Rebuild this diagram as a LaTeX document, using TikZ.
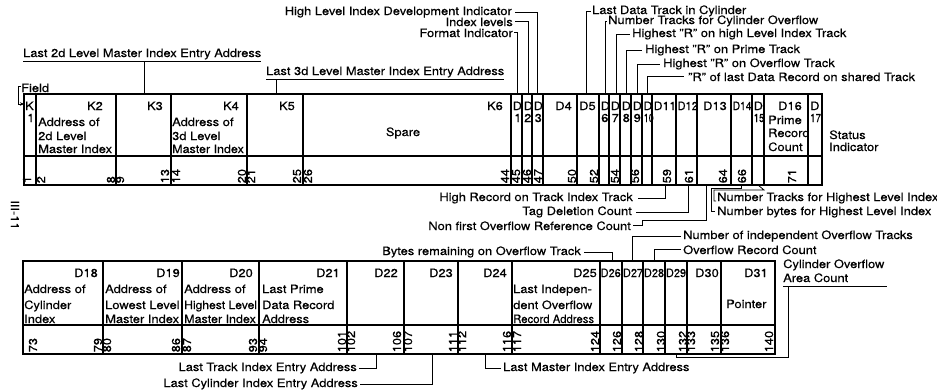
\documentclass[tikz,border=0pt]{standalone}
\usepackage{fontspec}
\setmainfont{TeX Gyre Heros}[FakeStretch=1.12,FakeBold=0.35]
\usetikzlibrary{arrows.meta}
\newcommand\fs{\fontsize{11.5}{13}\selectfont}
\newcommand\sq[2]{\scalebox{#1}[1]{#2}}
\begin{document}
\begin{tikzpicture}[x=1pt,y=-1pt,
  tbl/.style={line width=1.6pt},
  grid/.style={line width=1.1pt},
  lead/.style={line width=0.8pt},
  txt/.style={inner sep=0pt, font=\fs},
  num/.style={inner sep=0pt, font=\fs, rotate=90, anchor=west},
  lt/.style={txt, anchor=base west},
  rt/.style={txt, anchor=base east}]
\useasboundingbox (0,0) rectangle (937,391);
\fill[white] (0,0) rectangle (937,391);

% ---------------- top table ----------------
\draw[tbl] (24,94) rectangle (822,185);
\draw[grid] (24,156) -- (822,156);
\foreach \x in {36,116,171,247,303,511,522,532,543,577,599,609,620,631,642,652,676,697,731,752,764,808}
  \draw[grid] (\x,94) -- (\x,185);

\node[lt] (k1a) at (25,110) {K};
\node[lt] (k1b) at (27,122) {1};
\node[rt] (k2) at (103,110) {K2};
\node[lt] (k2a) at (38,126) {Address of};
\node[lt] (k2b) at (38,140) {2d Level};
\node[lt] (k2c) at (38,153) {Master Index};
\node[rt] (k3) at (163,110) {K3};
\node[rt] (k4) at (239,110) {K4};
\node[lt] (k4a) at (172,126) {Address of};
\node[lt] (k4b) at (172,140) {3d Level};
\node[lt] (k4c) at (172,153) {\sq{0.97}{Master Index}};
\node[rt] (k5) at (295,110) {K5};
\node[rt] (k6) at (503,110) {K6};
\node[txt] (spare) at (403,133) {Spare};
\node[lt] (d1a) at (512.5,110) {D};  \node[lt] (d1b) at (514,122) {1};
\node[lt] (d2a) at (523.5,110) {D};\node[lt] (d2b) at (524,122) {2};
\node[lt] (d3a) at (533.5,110) {D};  \node[lt] (d3b) at (534.5,122) {3};
\node[rt] (d4) at (572,110) {D4};
\node[lt] (d5) at (579,110) {D5};
\node[lt] (d6a) at (600.5,110) {D};\node[lt] (d6b) at (601,122) {6};
\node[lt] (d7a) at (610.5,110) {D};  \node[lt] (d7b) at (611.5,122) {7};
\node[lt] (d8a) at (621.5,110) {D};  \node[lt] (d8b) at (622.5,122) {8};
\node[lt] (d9a) at (632.5,110) {D};  \node[lt] (d9b) at (633.5,122) {9};
\node[lt] (d10a) at (643.3,110) {\sq{0.95}{D}};\node[lt] (d10b) at (643.5,122) {\sq{0.7}{10}};
\node[lt] (d11) at (653.5,110) {\sq{0.95}{D11}};
\node[lt] (d12) at (677.5,110) {\sq{0.85}{D12}};
\node[lt] (d13) at (703,110) {D13};
\node[lt] (d14) at (732.5,110) {\sq{0.8}{D14}};
\node[lt] (d15a) at (753.5,110) {D};\node[lt] (d15b) at (753.5,122) {\sq{0.75}{15}};
\node[rt] (d16) at (802,110) {D16};
\node[lt] (d16a) at (768,124) {Prime};
\node[lt] (d16b) at (768,137) {Record};
\node[lt] (d16c) at (768,151) {Count};
\node[lt] (d17a) at (810,110) {D};\node[lt] (d17b) at (810,122) {\sq{0.75}{17}};
\node[lt] (st1) at (829,139) {Status};
\node[lt] (st2) at (829,151) {Indicator};

% top numbers
\foreach \v/\x in {1/27,2/41,8/111,9/120,13/165,14/176,20/242,21/251,25/297,26/308,
  44/505,45/516,46/527,47/538,50/572,52/594,54/615,56/635,59/667,61/689,64/723,66/742,71/792}
  \node[num] (n\v) at (\x,183.5) {\v};

% ---------------- bottom table ----------------
\draw[tbl] (23,261) rectangle (775,354);
\draw[grid] (23,325) -- (775,325);
\foreach \x in {103,182,259,347,404,458,512,600,622,643,665,687,721}
  \draw[grid] (\x,261) -- (\x,354);

\node[rt] (d18) at (98,277) {D18};
\node[lt] (d18a) at (24,293) {Address of};
\node[lt] (d18b) at (24,309) {Cylinder};
\node[lt] (d18c) at (24,323) {Index};
\node[rt] (d19) at (180,277) {D19};
\node[lt] (d19a) at (105,293) {Address of};
\node[lt] (d19b) at (105,309) {Lowest Level};
\node[lt] (d19c) at (105,323) {Master Index};
\node[rt] (d20) at (253,277) {D20};
\node[lt] (d20a) at (184,293) {Address of};
\node[lt] (d20b) at (184,309) {\sq{0.94}{Highest Level}};
\node[lt] (d20c) at (184,323) {\sq{0.97}{Master Index}};
\node[rt] (d21) at (340,277) {D21};
\node[lt] (d21a) at (262,293) {Last Prime};
\node[lt] (d21b) at (262,309) {Data Record};
\node[lt] (d21c) at (262,323) {Address};
\node[rt] (d22) at (398,277) {D22};
\node[rt] (d23) at (453,277) {D23};
\node[rt] (d24) at (507,277) {D24};
\node[rt] (d25) at (597,277) {D25};
\node[lt] (d25a) at (513,293) {Last Indepen-};
\node[lt] (d25b) at (513,309) {dent Overflow};
\node[lt] (d25c) at (513,323) {\sq{0.88}{Record Address}};
\node[lt] (d26) at (600.5,277) {\sq{0.85}{D26}};
\node[lt] (d27) at (622.8,277) {\sq{0.85}{D27}};
\node[lt] (d28) at (643.8,277) {\sq{0.85}{D28}};
\node[lt] (d29) at (665.8,277) {\sq{0.85}{D29}};
\node[lt] (d30) at (695,277) {D30};
\node[rt] (d31) at (768,277) {D31};
\node[lt] (d31a) at (726,308) {Pointer};

\foreach \v/\x in {73/33,79/98,80/107,86/176,87/187,93/253,94/263,101/342,102/351,106/397,
  107/408,111/453,112/462,116/507,117/517,124/595,126/617,128/639,130/661,132/683,133/691,
  135/715,136/725,140/769}
  \node[num] (m\v) at (\x,352.5) {\v};

% ---------------- leader end points ----------------
\coordinate (k3t) at (144,94);
\coordinate (k5t) at (276,94);
\coordinate (k1l) at (24,104);
\coordinate (d1t) at (517,94);
\coordinate (d2t) at (528,94);
\coordinate (d3t) at (537.5,94);
\coordinate (d5t) at (586,94);
\coordinate (d6t) at (605,94);
\coordinate (d7t) at (616,94);
\coordinate (d8t) at (626.5,94);
\coordinate (d9t) at (637,94);
\coordinate (d10t) at (647.5,94);
\coordinate (d11b) at (665,185);
\coordinate (d12b) at (688,185);
\coordinate (d13b) at (706,185);
\coordinate (d14b) at (741,185);
\coordinate (d15b) at (758,185);
\coordinate (d26t) at (612,261);
\coordinate (d27t) at (632,261);
\coordinate (d28t) at (654,261);
\coordinate (d22b) at (376,354);
\coordinate (d23b) at (432,354);
\coordinate (d24b) at (485,354);
\coordinate (d29b) at (676,354);

% ---------------- labels above top table ----------------
\node[lt] (l2d) at (23,57) {Last 2d Level Master Index Entry Address};
\draw[lead] ([yshift=-4pt]l2d.base west) coordinate (l2du) -- ([yshift=-4pt]l2d.base east);
\draw[lead] (k3t) -- (k3t |- l2du);
\node[lt] (l3d) at (266,75) {Last 3d Level Master Index Entry Address};
\draw[lead] ([yshift=-4pt]l3d.base west) coordinate (l3du) -- ([yshift=-4pt]l3d.base east);
\draw[lead] (k5t) -- (k5t |- l3du);

\node[lt] (fld) at (21,92) {Field};
\draw[lead,-{Stealth[length=4pt,width=3.5pt]}] ([yshift=1pt]fld.west) -- ++(-3,0) |- (k1l);

\node[rt] (hl) at (512,15) {High Level Index Development Indicator};
\draw[lead] ([xshift=3pt]hl.east) -| (d3t);
\node[rt] (il) at (513,26) {Index levels};
\draw[lead] ([xshift=2pt]il.east) -| (d2t);
\node[rt] (fi) at (513,37) {Format Indicator};
\draw[lead] ([xshift=1pt]fi.east) -| (d1t);

\node[lt] (ldt) at (592,14) {Last Data Track in Cylinder};
\draw[lead] (d5t) |- ([xshift=-1pt]ldt.west);
\node[lt] (ntc) at (608,24) {Number Tracks for Cylinder Overflow};
\draw[lead] (d6t) |- ([xshift=-1pt]ntc.west);
\node[lt] (hrh) at (632,37) {Highest "R" on high Level Index Track};
\draw[lead] (d7t) |- ([xshift=-2pt]hrh.west);
\node[lt] (hrp) at (645,53) {Highest "R" on Prime Track};
\draw[lead] (d8t) |- ([xshift=-3pt]hrp.west);
\node[lt] (hro) at (663,67) {Highest "R" on Overflow Track};
\draw[lead] (d9t) |- ([xshift=-3pt]hro.west);
\node[lt] (rld) at (688,81) {"R" of last Data Record on shared Track};
\draw[lead] (d10t) |- ([xshift=-4pt]rld.west);

% ---------------- labels below top table ----------------
\node[rt] (hrt) at (633,201) {High Record on Track Index Track};
\draw[lead] ([xshift=5pt]hrt.east) -| (d11b);
\node[rt] (tdc) at (632,215) {Tag Deletion Count};
\draw[lead] ([xshift=4pt]tdc.east) -| (d12b);
\node[rt] (nfo) at (631,230) {Non first Overflow Reference Count};
\draw[lead] ([xshift=2pt]nfo.east) -- ++(9,0) -- ++(0,-5) -| (d13b);
\node[lt] (nth) at (717,201) {Number Tracks for Highest Level Index};
\draw[lead] (d15b) -- ++(6,5) -| ([xshift=-3pt]nth.base west) -- ++(2,0);
\node[lt] (nbh) at (717,215) {Number bytes for Highest Level Index};
\draw[lead] (d14b) -- ++(0,3) -| ([xshift=-6pt, yshift=4pt]nbh.base west) -- ++(4,0);

% ---------------- labels between tables ----------------
\node[rt] (brt) at (581,255) {Bytes remaining on Overflow Track};
\draw[lead] ([xshift=3pt]brt.east) -| (d26t);
\node[lt] (nio) at (683,239) {Number of independent Overflow Tracks};
\draw[lead] ([xshift=-2pt]nio.west) -| (d27t);
\node[lt] (orc) at (683,254) {Overflow Record Count};
\draw[lead] ([xshift=-2pt]orc.west) -| (d28t);
\node[lt] (coa) at (783,268) {Cylinder Overflow};
\node[lt] (cob) at (783,282) {Area Count};
\draw[lead] (783,286) coordinate (cou) -- (887,286);
\draw[lead] (cou) ++(5,0) -- ++(0,71) -| (d29b);

% ---------------- labels below bottom table ----------------
\node[rt] (lti) at (357,371) {Last Track Index Entry Address};
\draw[lead] ([xshift=2pt]lti.east) -| (d22b);
\node[rt] (lci) at (358,387) {Last Cylinder Index Entry Address};
\draw[lead] ([xshift=2pt]lci.east) -| (d23b);
\node[lt] (lmi) at (503,371) {Last Master Index Entry Address};
\draw[lead] (d24b) |- ([xshift=-2pt]lmi.west);

% page number
\node[txt, rotate=-90] (pg) at (15,215) {III-11};
\end{tikzpicture}
\end{document}
